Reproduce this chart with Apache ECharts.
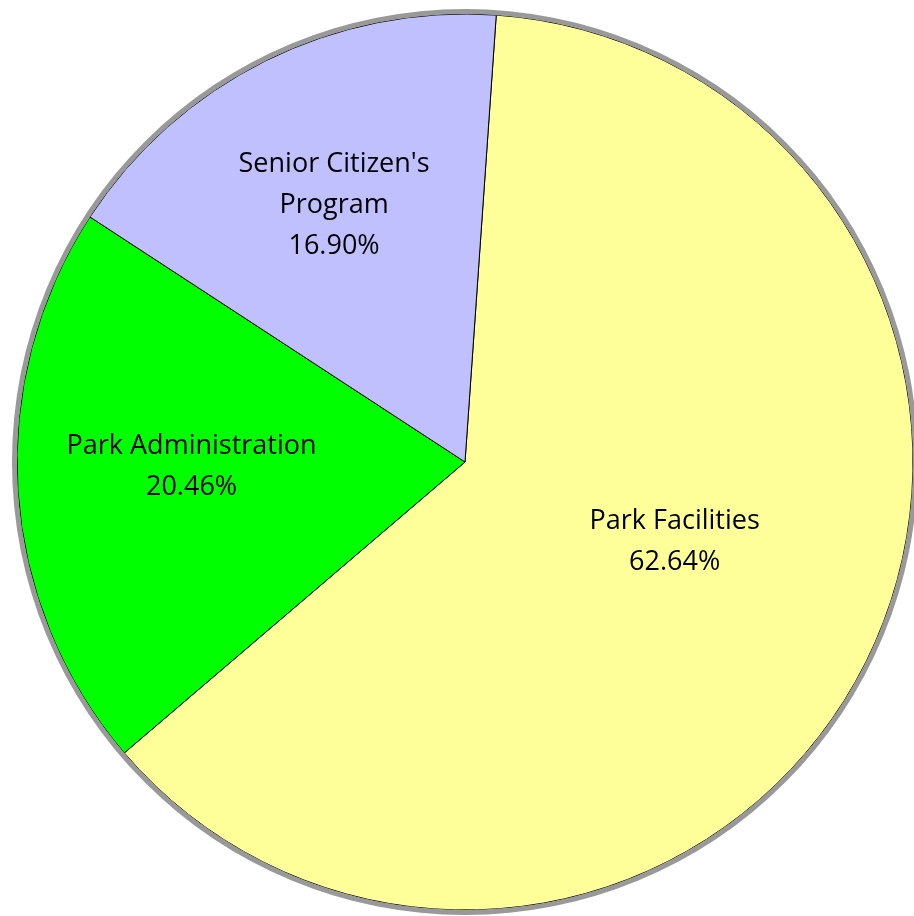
<!DOCTYPE html>
<html>
<head>
<meta charset="utf-8">
<script src="https://cdn.jsdelivr.net/npm/echarts@6/dist/echarts.min.js"></script>
<style>
html,body{margin:0;padding:0;background:#fff;}
#chart{width:914px;height:916px;}
</style>
</head>
<body>
<div id="chart"></div>
<script>
const categories = ["Park Facilities", "Park Administration", "Senior Citizen's Program"];
const labelNames = ["Park Facilities", "Park Administration", "Senior Citizen's\nProgram"];
const values = [62.64, 20.46, 16.90];
const colors = ["#FFFF99", "#00FF00", "#C0C0FF"];

const chart = echarts.init(document.getElementById('chart'));
const center = [465, 462];
const R = 448;
const fontFamily = "'Open Sans', 'Noto Sans', sans-serif";
// small label nudges (pixels) to match the reference placement
const labelNudge = [[7, -22], [9, -13], [-5, -3]];

function fmt(p) {
  return labelNames[p.dataIndex] + '\n' + p.percent.toFixed(2) + '%';
}

const labelStyle = {
  position: 'inside',
  color: '#000',
  fontSize: 27,
  lineHeight: 41,
  fontFamily: fontFamily
};

chart.setOption({
  backgroundColor: '#ffffff',
  animation: false,
  series: [
    {
      type: 'pie',
      center: center,
      radius: [0, R],
      startAngle: 86,
      clockwise: true,
      silent: true,
      itemStyle: { borderColor: '#000', borderWidth: 1 },
      label: Object.assign({}, labelStyle, {
        formatter: function (p) { return p.dataIndex === 0 ? fmt(p) : ''; }
      }),
      labelLayout: function (params) {
        const n = labelNudge[params.dataIndex];
        return { dx: n[0], dy: n[1] };
      },
      labelLine: { show: false },
      data: categories.map((c, i) => ({ name: c, value: values[i], itemStyle: { color: colors[i] } })),
      z: 2
    },
    {
      type: 'pie',
      center: center,
      radius: [0, R * 1.25],
      startAngle: 86,
      clockwise: true,
      silent: true,
      itemStyle: { color: 'rgba(0,0,0,0)', borderWidth: 0 },
      label: Object.assign({}, labelStyle, {
        formatter: function (p) { return p.dataIndex === 0 ? '' : fmt(p); }
      }),
      labelLayout: function (params) {
        const n = labelNudge[params.dataIndex];
        return { dx: n[0], dy: n[1] };
      },
      labelLine: { show: false },
      data: categories.map((c, i) => ({ name: c, value: values[i], itemStyle: { color: 'rgba(0,0,0,0)' } })),
      z: 3
    },
    {
      type: 'pie',
      center: center,
      radius: [R, R + 5],
      silent: true,
      label: { show: false },
      labelLine: { show: false },
      itemStyle: { color: '#999999', borderWidth: 0 },
      data: [{ name: 'border', value: 1 }],
      z: 4
    }
  ]
});
</script>
</body>
</html>
